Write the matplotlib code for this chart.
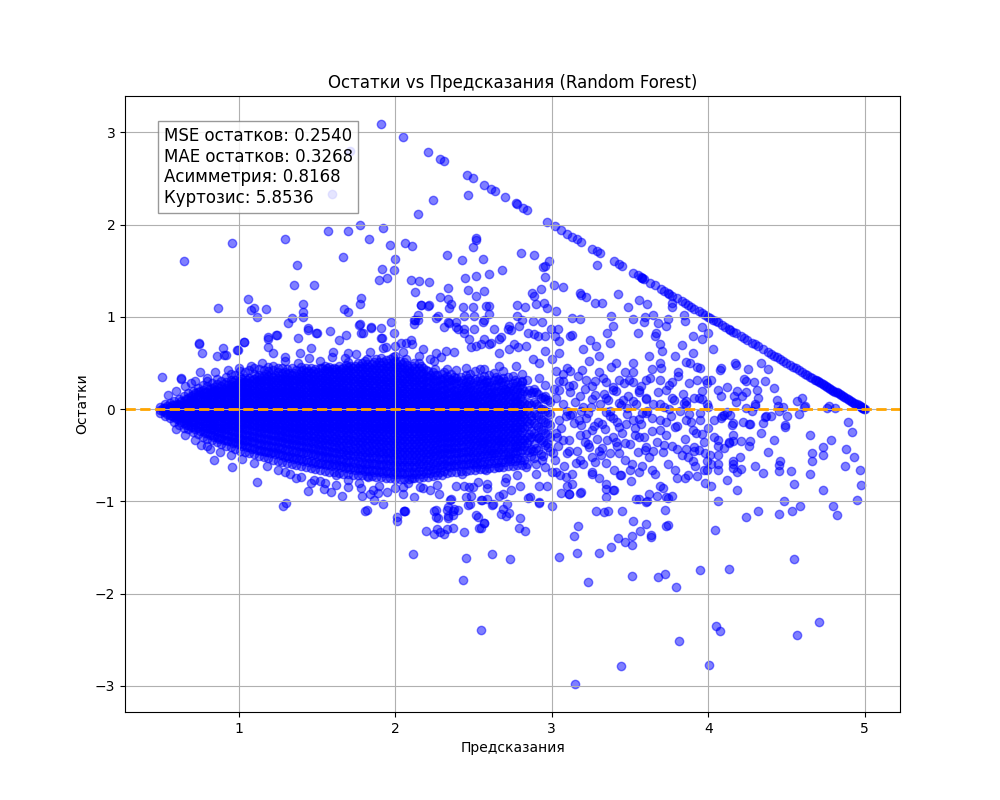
import matplotlib
matplotlib.use('Agg')
import matplotlib.pyplot as plt

# Статистика остатков (как в исходном отчёте)
mse_resid = 0.2540
mae_resid = 0.3268
skew_resid = 0.8168
kurt_resid = 5.8536

# Точки на линии ограничения целевой переменной (факт = 5.0)
cap_pred = [1.91, 2.05, 2.21, 2.29, 2.31, 2.46, 2.50, 2.57, 2.61, 2.64, 2.70, 2.77, 2.78,
            2.82, 2.84, 2.97, 3.02, 3.06, 3.10, 3.13, 3.16, 3.19, 3.26, 3.29, 3.31, 3.40,
            3.43, 3.45, 3.52, 3.55, 3.57, 3.58, 3.58, 3.59, 3.63, 3.66, 3.70, 3.72, 3.74,
            3.75, 3.77, 3.80, 3.83, 3.85, 3.87, 3.89, 3.91, 3.94, 3.96, 3.98, 4.00, 4.01,
            4.03, 4.05, 4.06, 4.09, 4.11, 4.13, 4.14, 4.16, 4.18, 4.21, 4.23, 4.25, 4.28,
            4.30, 4.32, 4.35, 4.38, 4.40, 4.42, 4.44, 4.46, 4.48, 4.50, 4.52, 4.54, 4.56,
            4.58, 4.60, 4.62, 4.63, 4.65, 4.66, 4.68, 4.69, 4.70, 4.71, 4.72, 4.73, 4.74,
            4.75, 4.76, 4.77, 4.78, 4.79, 4.80, 4.81, 4.82, 4.83, 4.84, 4.85, 4.86, 4.87,
            4.88, 4.89, 4.90, 4.91, 4.92, 4.93, 4.94, 4.95, 4.96, 4.97, 4.975, 4.98, 4.985,
            4.99, 4.995, 5.00]
cap_resid = [3.09, 2.95, 2.79, 2.71, 2.69, 2.54, 2.50, 2.43, 2.39, 2.36, 2.30, 2.23, 2.22,
             2.18, 2.16, 2.03, 1.98, 1.94, 1.90, 1.87, 1.84, 1.81, 1.74, 1.71, 1.69, 1.60,
             1.57, 1.55, 1.48, 1.45, 1.43, 1.42, 1.42, 1.41, 1.37, 1.34, 1.30, 1.28, 1.26,
             1.25, 1.23, 1.20, 1.17, 1.15, 1.13, 1.11, 1.09, 1.06, 1.04, 1.02, 1.00, 0.99,
             0.97, 0.95, 0.94, 0.91, 0.89, 0.87, 0.86, 0.84, 0.82, 0.79, 0.77, 0.75, 0.72,
             0.70, 0.68, 0.65, 0.62, 0.60, 0.58, 0.56, 0.54, 0.52, 0.50, 0.48, 0.46, 0.44,
             0.42, 0.40, 0.38, 0.37, 0.35, 0.34, 0.32, 0.31, 0.30, 0.29, 0.28, 0.27, 0.26,
             0.25, 0.24, 0.23, 0.22, 0.21, 0.20, 0.19, 0.18, 0.17, 0.16, 0.15, 0.14, 0.13,
             0.12, 0.11, 0.10, 0.09, 0.08, 0.07, 0.06, 0.05, 0.04, 0.03, 0.025, 0.02, 0.015,
             0.01, 0.005, 0.00]

# Плотное ядро, часть 1: предсказание колонки и остатки в ней
core_pred = [0.50, 0.53, 0.56, 0.59, 0.62, 0.65, 0.68, 0.71, 0.74, 0.77, 0.80, 0.83, 0.86,
             0.89, 0.92, 0.95, 0.98, 1.01, 1.04, 1.07, 1.10, 1.13, 1.16, 1.19, 1.22, 1.25,
             1.28, 1.31, 1.34, 1.37, 1.40, 1.43, 1.46, 1.49, 1.52, 1.55, 1.58, 1.61, 1.64,
             1.67, 1.70, 1.73, 1.76, 1.79, 1.82, 1.85, 1.88, 1.91, 1.94, 1.97, 2.00, 2.03,
             2.06, 2.09, 2.12, 2.15, 2.18, 2.21, 2.24, 2.27, 2.30, 2.33, 2.36, 2.39, 2.42,
             2.45, 2.48, 2.51, 2.54, 2.57, 2.60, 2.63, 2.66, 2.69, 2.72, 2.75, 2.78, 2.81,
             2.84, 2.87, 2.90, 2.93, 2.96, 2.99]
core_resid = [
    [-.04, -.01, .02],
    [-.07, -.03, .01, .05],
    [-.10, -.06, -.02, .02, .07],
    [-.14, -.09, -.05, -.01, .04, .09],
    [-.17, -.12, -.07, -.03, .02, .06, .11],
    [-.20, -.15, -.10, -.05, -.01, .04, .09, .14],
    [-.22, -.17, -.12, -.07, -.03, .02, .07, .12, .17],
    [-.25, -.19, -.14, -.09, -.04, .00, .05, .10, .15, .20],
    [-.27, -.21, -.16, -.11, -.06, -.02, .03, .08, .13, .18, .23],
    [-.30, -.24, -.18, -.13, -.08, -.03, .01, .06, .11, .16, .21, .26],
    [-.32, -.26, -.20, -.15, -.10, -.05, .00, .04, .09, .14, .19, .25, .30],
    [-.34, -.28, -.22, -.17, -.12, -.07, -.02, .03, .08, .13, .18, .23, .28],
    [-.36, -.30, -.24, -.18, -.13, -.08, -.03, .01, .06, .11, .16, .21, .27, .33],
    [-.38, -.31, -.25, -.20, -.14, -.09, -.04, .00, .05, .10, .15, .20, .25, .30],
    [-.40, -.33, -.27, -.21, -.16, -.11, -.06, -.01, .04, .08, .13, .18, .23, .29, .35],
    [-.41, -.35, -.29, -.23, -.17, -.12, -.07, -.02, .03, .07, .12, .17, .22, .27, .32, .38],
    [-.43, -.36, -.30, -.24, -.18, -.13, -.08, -.03, .02, .06, .11, .16, .21, .26, .31, .37],
    [-.45, -.38, -.31, -.25, -.19, -.14, -.09, -.04, .01, .05, .10, .15, .20, .25, .30, .35, .41],
    [-.46, -.39, -.33, -.27, -.21, -.15, -.10, -.05, .00, .04, .09, .14, .19, .24, .29, .34, .40],
    [-.48, -.41, -.34, -.28, -.22, -.16, -.11, -.06, -.01, .04, .08, .13, .18, .23, .28, .34, .42],
    [-.49, -.42, -.35, -.29, -.23, -.17, -.12, -.07, -.02, .03, .07, .12, .17, .22, .28, .33, .38, .44],
    [-.51, -.44, -.37, -.30, -.24, -.18, -.13, -.08, -.03, .02, .06, .11, .16, .21, .27, .32, .37, .43],
    [-.52, -.45, -.38, -.31, -.25, -.19, -.14, -.09, -.04, .01, .06, .10, .15, .20, .26, .31, .36, .42],
    [-.53, -.46, -.39, -.32, -.26, -.20, -.15, -.10, -.05, .00, .05, .10, .15, .20, .25, .30, .36, .41, .46],
    [-.55, -.47, -.40, -.33, -.27, -.21, -.16, -.11, -.06, -.01, .04, .09, .14, .19, .24, .29, .35, .42],
    [-.56, -.48, -.41, -.34, -.28, -.22, -.16, -.11, -.06, -.01, .04, .08, .13, .18, .23, .29, .34, .40, .45],
    [-.57, -.50, -.42, -.35, -.29, -.23, -.17, -.12, -.07, -.02, .03, .08, .13, .18, .23, .28, .33, .39, .44],
    [-.58, -.51, -.43, -.36, -.30, -.24, -.18, -.13, -.08, -.03, .02, .07, .12, .17, .22, .27, .32, .38, .43],
    [-.60, -.52, -.44, -.37, -.31, -.25, -.19, -.14, -.09, -.04, .01, .06, .11, .16, .21, .26, .32, .37, .44],
    [-.61, -.53, -.45, -.38, -.32, -.26, -.20, -.15, -.10, -.05, .00, .05, .10, .15, .20, .25, .31, .36, .42],
    [-.62, -.54, -.46, -.39, -.33, -.27, -.21, -.16, -.11, -.06, -.01, .04, .09, .14, .19, .25, .30, .35, .41, .46],
    [-.63, -.55, -.47, -.40, -.34, -.28, -.22, -.17, -.12, -.07, -.02, .03, .08, .13, .18, .24, .29, .34, .40, .45],
    [-.64, -.56, -.48, -.41, -.35, -.29, -.23, -.17, -.12, -.07, -.02, .03, .08, .13, .18, .23, .28, .33, .39, .44],
    [-.65, -.57, -.49, -.42, -.35, -.29, -.23, -.18, -.13, -.08, -.03, .02, .07, .12, .17, .22, .27, .32, .38, .43],
    [-.66, -.58, -.50, -.43, -.36, -.30, -.24, -.19, -.14, -.09, -.04, .01, .06, .11, .16, .21, .26, .32, .37, .44],
    [-.67, -.59, -.51, -.44, -.37, -.31, -.25, -.19, -.14, -.09, -.04, .01, .06, .11, .16, .21, .26, .31, .36, .42, .47],
    [-.68, -.60, -.52, -.45, -.38, -.32, -.26, -.20, -.15, -.10, -.05, .00, .05, .10, .15, .20, .25, .30, .36, .41, .46],
    [-.68, -.60, -.53, -.46, -.39, -.32, -.26, -.21, -.16, -.11, -.06, -.01, .04, .09, .14, .19, .24, .29, .35, .40, .45],
    [-.69, -.61, -.54, -.47, -.40, -.33, -.27, -.21, -.16, -.11, -.06, -.01, .04, .09, .14, .19, .24, .30, .35, .41, .47],
    [-.70, -.62, -.54, -.47, -.40, -.34, -.28, -.22, -.17, -.12, -.07, -.02, .03, .08, .13, .18, .23, .28, .34, .39, .45],
    [-.70, -.63, -.55, -.48, -.41, -.34, -.28, -.22, -.17, -.12, -.07, -.02, .03, .08, .13, .18, .23, .29, .34, .40, .46, .51],
    [-.71, -.63, -.56, -.49, -.42, -.35, -.29, -.23, -.18, -.13, -.08, -.03, .02, .07, .12, .17, .22, .28, .33, .39, .45],
    [-.72, -.64, -.56, -.49, -.42, -.36, -.30, -.24, -.18, -.13, -.08, -.03, .02, .07, .12, .17, .22, .27, .33, .38, .44, .50],
    [-.72, -.65, -.57, -.50, -.43, -.36, -.30, -.24, -.19, -.14, -.09, -.04, .01, .06, .11, .16, .21, .27, .32, .38, .44, .50],
    [-.73, -.65, -.58, -.50, -.43, -.37, -.31, -.25, -.19, -.14, -.09, -.04, .01, .06, .11, .16, .21, .26, .32, .37, .43, .49, .54],
    [-.73, -.66, -.58, -.51, -.44, -.37, -.31, -.25, -.20, -.15, -.10, -.05, .00, .05, .10, .15, .20, .26, .31, .37, .43, .49],
    [-.74, -.66, -.59, -.51, -.44, -.38, -.32, -.26, -.20, -.15, -.10, -.05, .00, .05, .10, .15, .20, .25, .31, .36, .42, .48, .54],
    [-.74, -.67, -.59, -.52, -.45, -.38, -.32, -.26, -.21, -.16, -.11, -.06, -.01, .04, .09, .14, .19, .25, .30, .36, .42, .48, .55],
    [-.75, -.67, -.60, -.52, -.45, -.39, -.33, -.27, -.21, -.16, -.11, -.06, -.01, .04, .09, .14, .19, .24, .30, .35, .41, .47, .53],
    [-.75, -.68, -.60, -.53, -.46, -.39, -.33, -.27, -.22, -.17, -.12, -.07, -.02, .03, .08, .13, .18, .24, .29, .35, .41, .47, .54],
    [-.76, -.68, -.61, -.53, -.46, -.40, -.34, -.28, -.22, -.17, -.12, -.07, -.02, .03, .08, .13, .18, .23, .29, .34, .40, .46, .52, .58],
    [-.76, -.68, -.61, -.54, -.47, -.40, -.34, -.28, -.23, -.18, -.13, -.08, -.03, .02, .07, .12, .17, .23, .28, .34, .40, .46, .52],
    [-.76, -.69, -.61, -.54, -.47, -.41, -.35, -.29, -.23, -.18, -.13, -.08, -.03, .02, .07, .12, .17, .22, .28, .33, .39, .45, .51],
    [-.76, -.68, -.61, -.54, -.47, -.41, -.35, -.29, -.24, -.19, -.14, -.09, -.04, .01, .06, .11, .16, .22, .27, .33, .39, .45],
    [-.75, -.68, -.61, -.54, -.47, -.41, -.35, -.29, -.24, -.19, -.14, -.09, -.04, .01, .06, .11, .16, .21, .27, .32, .38, .44, .50],
    [-.75, -.67, -.60, -.53, -.47, -.41, -.35, -.29, -.24, -.19, -.14, -.09, -.04, .01, .06, .11, .16, .21, .26, .32, .38, .44],
    [-.74, -.67, -.60, -.53, -.46, -.40, -.34, -.29, -.24, -.19, -.14, -.09, -.04, .01, .06, .11, .16, .21, .27, .33, .39, .45],
    [-.74, -.66, -.59, -.52, -.46, -.40, -.34, -.28, -.23, -.18, -.13, -.08, -.03, .02, .07, .12, .17, .23, .29, .35, .41],
    [-.73, -.65, -.58, -.51, -.45, -.39, -.33, -.28, -.23, -.18, -.13, -.08, -.03, .02, .07, .12, .17, .22, .28, .34, .40],
    [-.72, -.64, -.57, -.50, -.44, -.38, -.32, -.27, -.22, -.17, -.12, -.07, -.02, .03, .08, .13, .18, .24, .30, .37],
    [-.71, -.63, -.56, -.49, -.43, -.37, -.31, -.26, -.21, -.16, -.11, -.06, -.01, .04, .09, .14, .20, .26, .32, .38],
    [-.69, -.62, -.55, -.48, -.42, -.36, -.30, -.24, -.19, -.14, -.09, -.04, .01, .06, .11, .17, .23, .29, .36, .43],
    [-.68, -.61, -.54, -.47, -.41, -.35, -.29, -.23, -.18, -.13, -.08, -.03, .02, .07, .12, .18, .24, .31, .38],
    [-.68, -.60, -.53, -.46, -.40, -.34, -.28, -.22, -.17, -.12, -.07, -.02, .03, .08, .14, .20, .27, .34, .42],
    [-.67, -.60, -.52, -.46, -.39, -.33, -.27, -.22, -.16, -.11, -.06, -.01, .04, .09, .15, .21, .28, .35],
    [-.67, -.59, -.52, -.45, -.38, -.32, -.27, -.21, -.16, -.10, -.05, .00, .05, .10, .16, .22, .29, .37, .44],
    [-.66, -.58, -.51, -.44, -.38, -.31, -.26, -.20, -.15, -.10, -.04, .01, .06, .12, .18, .24, .31, .38],
    [-.66, -.57, -.50, -.43, -.37, -.31, -.25, -.19, -.14, -.09, -.04, .02, .07, .13, .19, .26, .33, .41],
    [-.65, -.57, -.50, -.43, -.36, -.30, -.24, -.19, -.13, -.08, -.03, .02, .08, .14, .20, .27, .34],
    [-.65, -.56, -.49, -.42, -.35, -.29, -.23, -.18, -.12, -.07, -.02, .03, .09, .15, .21, .28, .36, .43],
    [-.64, -.56, -.48, -.41, -.35, -.29, -.23, -.17, -.12, -.06, -.01, .04, .10, .16, .22, .29, .37],
    [-.64, -.55, -.48, -.41, -.34, -.28, -.22, -.16, -.11, -.06, .00, .05, .11, .17, .24, .31, .39],
    [-.63, -.55, -.47, -.40, -.34, -.27, -.21, -.16, -.10, -.05, .01, .06, .12, .18, .25, .33],
    [-.63, -.54, -.47, -.40, -.33, -.27, -.21, -.15, -.10, -.04, .01, .07, .13, .19, .26, .34, .41],
    [-.62, -.54, -.46, -.39, -.32, -.26, -.20, -.15, -.09, -.04, .02, .08, .14, .20, .27, .35],
    [-.62, -.53, -.46, -.38, -.32, -.26, -.20, -.14, -.09, -.03, .02, .08, .14, .21, .28, .36],
    [-.61, -.53, -.45, -.38, -.31, -.25, -.19, -.14, -.08, -.03, .03, .09, .15, .22, .29],
    [-.61, -.52, -.44, -.37, -.31, -.25, -.19, -.13, -.08, -.02, .03, .09, .16, .23, .30, .38],
    [-.60, -.44, -.37, -.30, -.18, -.13, -.02, .04, .16, .31],
    [-.51, -.43, -.30, -.24, -.12, -.07, .04, .17],
    [-.59, -.42, -.29, -.17, -.06, .05, .18],
    [-.49, -.34, -.22, -.11, .00, .12],
    [-.39, -.26, -.14, -.02, .11, .26],
    [-.45, -.30, -.17, -.05, .08],
]

# Плотное ядро, часть 2: промежуточные колонки
core2_pred = [0.515, 0.545, 0.575, 0.605, 0.635, 0.665, 0.695, 0.725, 0.755, 0.785, 0.815,
              0.845, 0.875, 0.905, 0.935, 0.965, 0.995, 1.025, 1.055, 1.085, 1.115, 1.145,
              1.175, 1.205, 1.235, 1.265, 1.295, 1.325, 1.355, 1.385, 1.415, 1.445, 1.475,
              1.505, 1.535, 1.565, 1.595, 1.625, 1.655, 1.685, 1.715, 1.745, 1.775, 1.805,
              1.835, 1.865, 1.895, 1.925, 1.955, 1.985, 2.015, 2.045, 2.075, 2.105, 2.135,
              2.165, 2.195, 2.225, 2.255, 2.285, 2.315, 2.345, 2.375, 2.405, 2.435, 2.465,
              2.495, 2.525, 2.555, 2.585, 2.615, 2.645, 2.675, 2.705, 2.735, 2.765, 2.795,
              2.825, 2.855, 2.885, 2.915, 2.945, 2.975]
core2_resid = [
    [-.02, .01],
    [-.05, -.01, .03],
    [-.08, -.04, .00, .04],
    [-.11, -.07, -.03, .01, .06],
    [-.14, -.09, -.05, .00, .04, .09],
    [-.17, -.12, -.07, -.03, .02, .06, .11],
    [-.19, -.14, -.09, -.05, .00, .05, .10, .14],
    [-.22, -.16, -.11, -.06, -.02, .03, .08, .13, .17],
    [-.24, -.18, -.13, -.08, -.04, .01, .06, .11, .16, .20],
    [-.26, -.20, -.15, -.10, -.05, -.01, .04, .09, .14, .19],
    [-.28, -.22, -.17, -.12, -.07, -.02, .02, .07, .12, .17, .22],
    [-.30, -.24, -.19, -.14, -.09, -.04, .01, .05, .10, .15, .20, .24],
    [-.32, -.26, -.20, -.15, -.10, -.05, -.01, .04, .08, .13, .18, .23],
    [-.34, -.28, -.22, -.17, -.12, -.07, -.02, .02, .07, .12, .17, .22, .27],
    [-.35, -.29, -.23, -.18, -.13, -.08, -.03, .01, .06, .11, .16, .21, .26],
    [-.37, -.31, -.25, -.19, -.14, -.09, -.04, .00, .05, .10, .15, .20, .25, .29],
    [-.38, -.32, -.26, -.20, -.15, -.10, -.05, -.01, .04, .09, .14, .19, .24, .28],
    [-.40, -.34, -.28, -.22, -.16, -.11, -.06, -.02, .03, .08, .13, .18, .23, .28, .33],
    [-.41, -.35, -.29, -.23, -.17, -.12, -.07, -.02, .02, .07, .12, .17, .22, .27, .32],
    [-.43, -.36, -.30, -.24, -.18, -.13, -.08, -.03, .01, .06, .11, .16, .21, .26, .31],
    [-.44, -.38, -.31, -.25, -.19, -.14, -.09, -.04, .00, .05, .10, .15, .20, .25, .30, .35],
    [-.45, -.39, -.32, -.26, -.20, -.15, -.10, -.05, .00, .04, .09, .14, .19, .24, .29, .34],
    [-.47, -.40, -.33, -.27, -.21, -.16, -.11, -.06, -.01, .03, .08, .13, .18, .23, .28, .33, .38],
    [-.48, -.41, -.34, -.28, -.22, -.17, -.12, -.07, -.02, .03, .07, .12, .17, .22, .27, .32, .37],
    [-.49, -.42, -.35, -.29, -.23, -.18, -.13, -.08, -.03, .02, .06, .11, .16, .21, .26, .31, .37],
    [-.50, -.43, -.36, -.30, -.24, -.19, -.14, -.09, -.04, .01, .06, .10, .15, .20, .25, .31, .36],
    [-.52, -.44, -.37, -.31, -.25, -.20, -.15, -.10, -.05, .00, .05, .10, .15, .20, .25, .30, .35, .40],
    [-.53, -.45, -.38, -.32, -.26, -.21, -.16, -.11, -.06, -.01, .04, .09, .14, .19, .24, .29, .34, .39],
    [-.54, -.46, -.39, -.33, -.27, -.22, -.17, -.12, -.07, -.02, .03, .08, .13, .18, .23, .28, .33, .39],
    [-.55, -.47, -.40, -.34, -.28, -.23, -.18, -.13, -.08, -.03, .02, .07, .12, .17, .22, .28, .33, .38],
    [-.56, -.48, -.41, -.35, -.29, -.24, -.19, -.14, -.09, -.04, .01, .06, .11, .16, .21, .27, .32, .37, .42],
    [-.57, -.49, -.42, -.36, -.30, -.25, -.20, -.15, -.10, -.05, .00, .05, .10, .15, .20, .26, .31, .36, .41],
    [-.58, -.50, -.43, -.37, -.31, -.26, -.20, -.15, -.10, -.05, .00, .05, .10, .15, .20, .25, .30, .36, .41],
    [-.59, -.51, -.44, -.38, -.32, -.26, -.21, -.16, -.11, -.06, -.01, .04, .09, .14, .19, .24, .29, .35, .40],
    [-.60, -.52, -.45, -.39, -.33, -.27, -.22, -.17, -.12, -.07, -.02, .03, .08, .13, .18, .23, .29, .34, .39, .45],
    [-.61, -.53, -.46, -.40, -.34, -.28, -.22, -.17, -.12, -.07, -.02, .03, .08, .13, .18, .23, .28, .33, .39, .44],
    [-.62, -.54, -.47, -.41, -.35, -.29, -.23, -.18, -.13, -.08, -.03, .02, .07, .12, .17, .22, .27, .33, .38, .43],
    [-.62, -.55, -.48, -.42, -.36, -.30, -.24, -.18, -.13, -.08, -.03, .02, .07, .12, .17, .22, .27, .32, .38, .43],
    [-.63, -.56, -.49, -.43, -.37, -.31, -.25, -.19, -.14, -.09, -.04, .01, .06, .11, .16, .21, .26, .32, .37, .43],
    [-.64, -.57, -.50, -.44, -.37, -.31, -.25, -.20, -.15, -.10, -.05, .00, .05, .10, .15, .20, .26, .31, .37, .42, .48],
    [-.65, -.57, -.50, -.44, -.38, -.32, -.26, -.20, -.15, -.10, -.05, .00, .05, .10, .15, .20, .25, .31, .36, .42, .47],
    [-.66, -.58, -.51, -.45, -.39, -.33, -.27, -.21, -.16, -.11, -.06, -.01, .04, .09, .14, .19, .25, .30, .36, .41, .47],
    [-.66, -.59, -.52, -.45, -.39, -.33, -.27, -.21, -.16, -.11, -.06, -.01, .04, .09, .14, .19, .24, .30, .35, .41, .47],
    [-.67, -.59, -.52, -.46, -.40, -.34, -.28, -.22, -.17, -.12, -.07, -.02, .03, .08, .13, .18, .24, .29, .35, .40, .46, .52],
    [-.67, -.60, -.53, -.46, -.40, -.34, -.28, -.22, -.17, -.12, -.07, -.02, .03, .08, .13, .18, .23, .29, .34, .40, .46],
    [-.68, -.60, -.53, -.47, -.41, -.35, -.29, -.23, -.18, -.13, -.08, -.03, .02, .07, .12, .17, .23, .28, .34, .39, .45, .51],
    [-.68, -.61, -.54, -.47, -.41, -.35, -.29, -.23, -.18, -.13, -.08, -.03, .02, .07, .12, .17, .22, .28, .33, .39, .45, .51],
    [-.69, -.61, -.54, -.48, -.42, -.36, -.30, -.24, -.19, -.14, -.09, -.04, .01, .06, .11, .16, .22, .27, .33, .39, .45, .51],
    [-.69, -.62, -.55, -.48, -.42, -.36, -.30, -.24, -.19, -.14, -.09, -.04, .01, .06, .11, .16, .21, .27, .32, .38, .44, .50],
    [-.70, -.62, -.55, -.49, -.43, -.37, -.31, -.25, -.20, -.15, -.10, -.05, .00, .05, .10, .15, .21, .26, .32, .38, .44, .50, .56],
    [-.70, -.63, -.56, -.49, -.43, -.37, -.31, -.25, -.20, -.15, -.10, -.05, .00, .05, .10, .15, .20, .26, .31, .37, .43, .49],
    [-.70, -.63, -.56, -.50, -.44, -.38, -.32, -.26, -.21, -.16, -.11, -.06, -.01, .04, .09, .14, .20, .25, .31, .37, .43, .49],
    [-.70, -.63, -.56, -.50, -.44, -.38, -.32, -.26, -.21, -.16, -.11, -.06, -.01, .04, .09, .14, .19, .25, .30, .36, .42, .48],
    [-.70, -.63, -.56, -.50, -.44, -.38, -.32, -.26, -.21, -.16, -.11, -.06, -.01, .04, .09, .14, .19, .24, .30, .35, .41, .47],
    [-.70, -.63, -.56, -.50, -.44, -.38, -.32, -.26, -.21, -.16, -.11, -.06, -.01, .04, .09, .14, .19, .24, .30, .35, .41],
    [-.70, -.63, -.56, -.50, -.43, -.37, -.31, -.26, -.21, -.16, -.11, -.06, -.01, .04, .09, .14, .19, .24, .29, .35, .41, .47],
    [-.69, -.62, -.55, -.49, -.43, -.37, -.31, -.26, -.21, -.16, -.11, -.06, -.01, .04, .09, .14, .19, .24, .30, .36, .42],
    [-.69, -.62, -.55, -.49, -.43, -.37, -.31, -.25, -.20, -.15, -.10, -.05, .00, .05, .10, .15, .20, .25, .31, .37],
    [-.68, -.61, -.54, -.48, -.42, -.36, -.30, -.25, -.20, -.15, -.10, -.05, .00, .05, .10, .15, .20, .25, .31, .37, .43],
    [-.68, -.61, -.54, -.48, -.42, -.36, -.30, -.25, -.20, -.15, -.10, -.05, .00, .05, .10, .15, .21, .27, .33],
    [-.67, -.60, -.53, -.47, -.41, -.35, -.29, -.24, -.19, -.14, -.09, -.04, .01, .06, .11, .16, .22, .28, .34, .40],
    [-.63, -.56, -.49, -.43, -.37, -.31, -.26, -.21, -.16, -.11, -.06, -.01, .04, .09, .14, .20, .26, .33],
    [-.62, -.55, -.48, -.42, -.36, -.30, -.25, -.20, -.15, -.10, -.05, .00, .05, .10, .15, .21, .28, .35],
    [-.62, -.55, -.48, -.42, -.36, -.30, -.24, -.19, -.14, -.09, -.04, .01, .06, .11, .17, .23, .30],
    [-.61, -.54, -.47, -.41, -.35, -.29, -.24, -.18, -.13, -.08, -.03, .02, .07, .12, .18, .25, .32],
    [-.61, -.54, -.47, -.41, -.35, -.29, -.23, -.18, -.13, -.07, -.02, .03, .08, .14, .20, .27, .34],
    [-.60, -.53, -.46, -.40, -.34, -.28, -.22, -.17, -.12, -.07, -.01, .04, .09, .15, .21, .28],
    [-.60, -.53, -.46, -.39, -.33, -.27, -.22, -.16, -.11, -.06, -.01, .05, .10, .16, .23, .30],
    [-.59, -.52, -.45, -.39, -.33, -.27, -.21, -.16, -.10, -.05, .00, .05, .11, .17, .24, .31],
    [-.59, -.51, -.44, -.38, -.32, -.26, -.20, -.15, -.10, -.04, .01, .06, .12, .18, .25, .32],
    [-.58, -.51, -.44, -.37, -.31, -.25, -.20, -.14, -.09, -.04, .02, .07, .13, .19, .26],
    [-.58, -.50, -.43, -.37, -.31, -.25, -.19, -.14, -.08, -.03, .02, .08, .14, .20, .27, .35],
    [-.57, -.50, -.43, -.36, -.30, -.24, -.18, -.13, -.08, -.02, .03, .09, .15, .21, .29],
    [-.57, -.49, -.42, -.36, -.30, -.24, -.18, -.12, -.07, -.02, .04, .10, .16, .22, .30],
    [-.56, -.49, -.42, -.35, -.29, -.23, -.17, -.12, -.06, -.01, .05, .11, .17, .24],
    [-.56, -.48, -.41, -.35, -.28, -.22, -.17, -.11, -.06, .00, .05, .11, .18, .25, .32],
    [-.55, -.47, -.40, -.34, -.28, -.22, -.16, -.11, -.05, .00, .06, .12, .19, .26],
    [-.55, -.40, -.33, -.21, -.10, -.05, .07, .20],
    [-.46, -.33, -.27, -.15, -.04, .07, .21],
    [-.53, -.38, -.26, -.15, -.04, .08, .22],
    [-.44, -.31, -.19, -.08, .03, .16],
    [-.51, -.36, -.23, -.12, .00, .13],
    [-.41, -.27, -.15, -.03, .10],
]

# Отдельные точки вне ядра: (предсказание, остаток)
scatter_points = [
    # верхняя левая часть
    (0.655, 1.61), (0.957, 1.80), (1.30, 1.845), (1.57, 1.935), (1.70, 1.935), (1.774, 2.00),
    (1.92, 1.96), (1.836, 1.84), (1.97, 1.78), (2.00, 1.63), (1.67, 1.65), (1.372, 1.565),
    (1.353, 1.345), (1.48, 1.345), (1.914, 1.52), (1.99, 1.51), (1.95, 1.42), (1.90, 1.40),
    (2.165, 1.13), (2.144, 0.97), (1.06, 1.195), (1.077, 1.07), (1.096, 1.095), (1.174, 1.087),
    (1.12, 1.00), (0.868, 1.10), (1.413, 1.14), (1.41, 1.05), (1.41, 1.00), (1.34, 0.985),
    (1.672, 1.085), (1.70, 1.05), (1.774, 1.14), (1.78, 1.20), (1.774, 0.925), (1.793, 0.83),
    (1.847, 0.89), (1.91, 0.88), (1.914, 0.77), (1.247, 0.80), (1.187, 0.76), (1.315, 0.93),
    (1.442, 0.88), (1.50, 0.82), (1.585, 0.85), (0.75, 0.71), (0.766, 0.605), (0.864, 0.576),
    (0.90, 0.66), (0.92, 0.587), (0.99, 0.64), (1.034, 0.725), (0.51, 0.345), (0.63, 0.333),
    (1.71, 2.80), (1.595, 2.33),
    (0.634, 0.322), (0.698, 0.286), (0.751, 0.406), (0.745, 0.714), (0.91, 0.587), (0.996, 0.641),
    (1.038, 0.732), (1.187, 0.786), (1.24, 0.805), (1.187, 0.678), (1.219, 0.605), (1.294, 0.569),
    (1.39, 0.605), (1.442, 0.859), (1.496, 0.822), (1.379, 0.768), (1.464, 0.66), (1.602, 0.623),
    (1.644, 0.75), (1.687, 0.805), (1.698, 0.605), (1.772, 0.913), (1.783, 0.822), (1.847, 0.877),
    (1.91, 0.768), (1.974, 0.949), (1.996, 0.822), (1.942, 0.678), (2.038, 0.714), (2.102, 0.75),
    (2.123, 0.967), (2.144, 1.022), (2.208, 1.112), (2.272, 1.004), (2.314, 0.895), (2.346, 0.931),
    (2.389, 0.895), (2.442, 0.822), (2.506, 1.004), (2.57, 0.967), (2.612, 0.714), (2.676, 0.786),
    (2.74, 0.859), (2.782, 0.678), (2.485, 0.678), (2.378, 0.623), (2.293, 0.569),
    (0.55, 0.15), (0.60, 0.20), (0.66, 0.25), (0.72, 0.30), (0.80, 0.34), (0.85, 0.40),
    (0.93, 0.42), (1.00, 0.45), (1.08, 0.47), (1.15, 0.50), (1.22, 0.47), (1.30, 0.52),
    (1.38, 0.50), (1.45, 0.55), (1.52, 0.52), (1.60, 0.56), (1.68, 0.55), (1.75, 0.60),
    (1.84, 0.62), (1.92, 0.66), (2.00, 0.68), (2.05, 0.62), (2.15, 0.58), (2.25, 0.52),
    # верхняя средняя часть
    (2.24, 2.27), (2.144, 2.11), (2.467, 2.32), (2.065, 1.80), (2.105, 1.77), (2.52, 1.855),
    (2.52, 1.83), (2.495, 1.76), (2.33, 1.67), (2.43, 1.62), (2.56, 1.63), (2.68, 1.51),
    (2.597, 1.46), (2.807, 1.695), (2.888, 1.67), (2.98, 1.60), (2.96, 1.555), (2.946, 1.545),
    (3.288, 1.56), (2.958, 1.43), (3.018, 1.345), (3.073, 1.32), (2.104, 1.40), (2.15, 1.39),
    (2.218, 1.38), (2.125, 1.27), (2.34, 1.31), (2.446, 1.42), (2.514, 1.44), (2.463, 1.29),
    (2.565, 1.28), (2.52, 1.23), (2.284, 1.22), (2.338, 1.19), (2.357, 1.14), (2.346, 1.10),
    (2.435, 1.11), (2.50, 1.11), (2.167, 1.13), (2.218, 1.13), (2.58, 1.12), (2.597, 1.12),
    (2.78, 1.13), (2.83, 1.11), (2.877, 1.26), (2.888, 1.23), (2.931, 1.30), (2.90, 1.14),
    (2.95, 1.155), (2.97, 1.10), (3.03, 1.065), (3.18, 1.26), (3.19, 1.24), (3.22, 1.21),
    (3.28, 1.155), (3.32, 1.155), (3.424, 1.245), (3.558, 1.18), (3.609, 1.135), (3.49, 1.105),
    (3.38, 1.01), (3.133, 0.99), (3.18, 0.975), (3.52, 0.975), (3.597, 1.00), (3.65, 1.02),
    (3.39, 0.90), (3.356, 0.82), (3.373, 0.72), (3.282, 0.685), (3.244, 0.745), (3.59, 0.94),
    (3.677, 0.93), (3.729, 0.90), (3.668, 0.82), (3.743, 0.98), (3.554, 0.82), (3.662, 0.79),
    (3.694, 0.70), (3.707, 0.63), (3.133, 0.80), (3.845, 1.02), (3.85, 0.95), (3.90, 0.79),
    (3.96, 0.89), (3.998, 0.82), (3.962, 0.76), (3.83, 0.69), (3.77, 1.11), (3.767, 1.155),
    (4.03, 0.65), (3.86, 0.51), (3.886, 0.50), (3.95, 0.44), (4.08, 0.44), (4.075, 0.42),
    (3.926, 0.31), (3.984, 0.31), (4.17, 0.50), (4.175, 0.475), (4.254, 0.43), (4.228, 0.33),
    (4.243, 0.30), (4.29, 0.29), (4.313, 0.21), (4.383, 0.43), (4.335, 0.50), (4.185, 0.195),
    (4.217, 0.14), (4.164, 0.14), (4.06, 0.21), (3.994, 0.28), (4.42, 0.225), (4.568, 0.087),
    (4.60, 0.123), (4.447, 0.033), (4.76, 0.014), (4.813, 0.014), (4.30, 0.05), (4.239, 0.014),
    (4.10, -0.06), (3.962, 0.105), (3.94, 0.123), (3.845, 0.07), (4.61, 0.025),
    (2.07, 0.72), (2.13, 0.97), (2.12, 0.92), (2.26, 0.99), (2.335, 0.94), (2.39, 0.94),
    (2.44, 1.01), (2.40, 0.87), (2.44, 0.87), (2.47, 0.76), (2.505, 0.87), (2.56, 0.94),
    (2.60, 1.03), (2.57, 0.76), (2.63, 0.87), (2.665, 0.76), (2.72, 0.87), (2.73, 0.90),
    (2.78, 1.01), (2.79, 0.90), (2.81, 0.97), (2.85, 0.83), (2.88, 0.96), (2.89, 0.81),
    (2.91, 0.79), (2.94, 0.94), (2.96, 0.79), (2.995, 0.87), (3.02, 0.79), (3.04, 0.87),
    (3.044, 0.74), (3.05, 0.61), (3.12, 0.79), (2.516, 0.685), (2.55, 0.70), (2.60, 0.70),
    (2.665, 0.61), (2.73, 0.65), (2.76, 0.70), (2.835, 0.685), (2.88, 0.54), (2.92, 0.50),
    (2.96, 0.63), (3.00, 0.54), (2.325, 0.63), (2.26, 0.61), (2.22, 0.54), (2.18, 0.65),
    (2.11, 0.70), (2.07, 0.54), (2.155, 0.50), (2.09, 0.40), (2.54, 0.43), (2.665, 0.47),
    (2.77, 0.47), (2.92, 0.34), (3.03, 0.41), (3.07, 0.30), (3.12, 0.41), (3.11, 0.25),
    (3.05, 0.21), (2.37, 0.32), (2.45, 0.25), (2.58, 0.29), (2.71, 0.21), (2.81, 0.29),
    (2.88, 0.18), (2.96, 0.14), (2.62, 0.14), (2.495, 0.105), (2.77, 0.09), (2.41, 0.14),
    (2.665, 0.32),
    (3.22, 0.32), (3.26, 0.25), (3.30, 0.40), (3.35, 0.29), (3.39, 0.21), (3.43, 0.32),
    (3.47, 0.40), (3.52, 0.29), (3.56, 0.21), (3.60, 0.32), (3.64, 0.43), (3.69, 0.32),
    (3.73, 0.21), (3.77, 0.29), (3.81, 0.40), (3.18, 0.14), (3.26, 0.105), (3.35, 0.12),
    (3.43, 0.07), (3.52, 0.09), (3.60, 0.105), (3.69, 0.05), (3.77, 0.12), (3.86, 0.09),
    (3.20, 0.65), (3.30, 0.58), (3.41, 0.50), (3.52, 0.50), (3.62, 0.58), (3.69, 0.50),
    (3.79, 0.58), (3.90, 0.61),
    (3.10, -0.02), (3.20, 0.02), (3.35, -0.03), (3.48, 0.01), (3.60, -0.04), (3.75, 0.00),
    (3.88, -0.05), (4.00, 0.02), (4.12, -0.03), (4.30, 0.03), (4.45, -0.02),
    # зона 3.0-4.5 около нуля
    (3.02, -0.55), (3.03, 0.12), (3.04, -0.40), (3.05, 0.30), (3.06, -0.20), (3.07, 0.05),
    (3.08, -0.62), (3.09, -0.08), (3.10, 0.45), (3.11, -0.33), (3.12, 0.18), (3.13, -0.70),
    (3.14, -0.15), (3.15, 0.08), (3.16, -0.45), (3.17, 0.36), (3.18, -0.28), (3.19, -0.02),
    (3.20, -0.60), (3.21, 0.22), (3.22, -0.10), (3.23, -0.38), (3.24, 0.52), (3.25, 0.02),
    (3.26, -0.52), (3.27, -0.18), (3.28, 0.15), (3.29, -0.32), (3.30, -0.75), (3.31, 0.06),
    (3.32, -0.42), (3.33, 0.34), (3.34, -0.22), (3.35, -0.58), (3.36, 0.10), (3.37, -0.08),
    (3.38, 0.46), (3.39, -0.30), (3.40, -0.66), (3.41, 0.20), (3.42, -0.14), (3.43, -0.48),
    (3.44, 0.04), (3.45, -0.26), (3.46, 0.28), (3.47, -0.55), (3.48, -0.05), (3.49, 0.14),
    (3.50, -0.38), (3.51, -0.78), (3.52, 0.40), (3.53, -0.20), (3.54, 0.06), (3.55, -0.46),
    (3.56, -0.11), (3.57, 0.25), (3.58, -0.62), (3.59, -0.30), (3.60, 0.12), (3.61, -0.02),
    (3.62, -0.52), (3.63, 0.34), (3.64, -0.24), (3.65, 0.05), (3.66, -0.70), (3.67, -0.36),
    (3.68, 0.18), (3.69, -0.12), (3.70, 0.44), (3.71, -0.46), (3.72, 0.02), (3.73, -0.28),
    (3.74, -0.60), (3.75, 0.26), (3.76, -0.08), (3.77, -0.40), (3.78, 0.10), (3.79, -0.66),
    (3.80, -0.18), (3.81, 0.36), (3.82, -0.02), (3.83, -0.50), (3.84, 0.16), (3.85, -0.32),
    (3.86, 0.04), (3.87, -0.72), (3.88, 0.28), (3.89, -0.14), (3.90, -0.56), (3.91, 0.12),
    (3.92, -0.26), (3.93, 0.46), (3.94, -0.44), (3.95, -0.04), (3.96, 0.20), (3.97, -0.36),
    (3.98, -0.80), (3.99, 0.06), (4.00, -0.20), (4.02, 0.32), (4.04, -0.12), (4.06, -0.66),
    (4.08, 0.14), (4.10, -0.42), (4.12, 0.24), (4.14, -0.06), (4.16, -0.28), (4.18, 0.08),
    (4.20, -0.52), (4.22, -0.14), (4.24, 0.18), (4.26, -0.40), (4.28, -0.02), (4.30, -0.62),
    (4.32, 0.12), (4.34, -0.26), (4.36, 0.30), (4.38, -0.46), (4.40, -0.08), (4.42, -0.34),
    (4.44, 0.10), (4.46, -0.56), (4.48, 0.02),
    (3.015, 0.22), (3.035, -0.30), (3.055, -0.72), (3.075, 0.38), (3.095, -0.48), (3.115, -0.06),
    (3.135, 0.26), (3.155, -0.58), (3.175, -0.12), (3.195, 0.42), (3.215, -0.36), (3.235, -0.04),
    (3.255, -0.68), (3.275, 0.30), (3.295, -0.14), (3.315, -0.50), (3.335, 0.16), (3.355, -0.34),
    (3.375, -0.02), (3.395, 0.24), (3.415, -0.40), (3.435, -0.72), (3.455, 0.10), (3.475, -0.16),
    (3.495, 0.32), (3.515, -0.60), (3.535, -0.28), (3.555, 0.18), (3.575, -0.04), (3.595, -0.44),
    # нижняя левая часть
    (0.60, -0.22), (0.66, -0.28), (0.72, -0.33), (0.80, -0.40), (0.88, -0.46), (0.95, -0.50),
    (1.02, -0.54), (1.10, -0.58), (1.18, -0.62), (1.25, -0.66), (1.33, -0.70), (1.40, -0.74),
    (1.48, -0.77), (1.55, -0.80), (1.62, -0.82), (1.70, -0.85), (1.78, -0.86), (1.86, -0.88),
    (1.95, -0.90), (2.05, -0.92), (2.12, -0.95), (1.30, -0.68), (1.37, -0.75), (1.46, -0.80),
    (1.52, -0.78), (1.62, -0.72), (1.70, -0.77), (1.77, -0.80), (1.83, -0.74), (1.90, -0.83),
    (2.00, -0.86), (2.08, -0.80), (2.16, -0.85), (2.22, -0.88), (2.27, -0.82),
    (0.758, -0.39), (0.815, -0.43), (0.842, -0.55), (0.957, -0.63), (1.117, -0.79), (1.283, -1.055),
    (1.304, -1.02), (1.442, -0.89), (1.544, -0.87), (1.59, -0.90), (1.66, -0.945), (1.787, -0.945),
    (1.842, -0.925), (1.893, -0.91), (1.868, -0.99), (1.92, -1.03), (1.82, -1.09), (1.81, -1.105),
    (2.01, -1.17), (2.01, -1.21), (2.063, -1.105), (2.20, -1.32), (2.25, -1.35), (2.27, -1.30),
    (2.26, -1.09), (2.276, -1.18), (2.335, -1.16), (2.36, -0.98), (2.378, -1.08), (2.516, -1.15),
    (2.537, -1.29), (2.57, -1.235), (2.676, -1.14), (2.69, -1.08), (2.718, -1.03), (2.627, -1.03),
    (2.59, -0.97), (2.552, -0.99), (2.463, -1.04), (2.485, -0.945), (2.50, -0.845),
    (2.05, -0.84), (2.06, -1.10), (2.11, -0.75), (2.18, -0.86), (2.25, -1.10), (2.26, -1.17),
    (2.28, -0.92), (2.34, -1.06), (2.35, -0.99), (2.37, -1.10), (2.39, -0.83), (2.44, -0.83),
    (2.45, -0.95), (2.47, -0.84), (2.48, -1.03), (2.53, -0.79), (2.55, -0.99), (2.59, -0.81),
    (2.59, -0.86), (2.62, -1.04), (2.665, -0.94), (2.69, -0.92), (2.70, -0.79), (2.71, -0.75),
    (2.74, -0.88), (2.80, -0.83), (2.86, -0.95), (2.92, -0.83), (2.92, -1.01), (2.97, -0.83),
    (3.00, -0.68), (3.10, -0.83), (3.11, -0.92),
    (2.56, -0.37), (2.62, -0.48), (2.665, -0.34), (2.73, -0.52), (2.77, -0.41), (2.835, -0.63),
    (2.88, -0.45), (2.92, -0.30), (2.94, -0.55), (2.97, -0.37), (3.01, -0.48), (3.03, -0.26),
    (2.665, -0.63), (2.58, -0.66), (2.52, -0.63), (2.43, -0.70), (2.78, -0.72), (2.90, -0.70),
    (2.96, -0.63),
    # нижняя правая часть
    (2.55, -2.40), (3.15, -2.98), (3.445, -2.79), (3.815, -2.51), (4.005, -2.775), (4.05, -2.35),
    (4.077, -2.405), (4.568, -2.45), (4.71, -2.31), (2.437, -1.85), (2.112, -1.57), (2.45, -1.61),
    (2.622, -1.57), (2.737, -1.62), (3.05, -1.60), (3.165, -1.56), (3.30, -1.56), (3.235, -1.87),
    (3.515, -1.81), (3.68, -1.82), (3.726, -1.79), (3.796, -1.93), (3.95, -1.74), (4.134, -1.73),
    (4.55, -1.62), (3.38, -1.49), (3.424, -1.395), (3.47, -1.44), (3.515, -1.47), (3.515, -1.38),
    (3.635, -1.366), (3.635, -1.39), (3.60, -1.25), (3.567, -1.326), (3.52, -1.21), (3.728, -1.27),
    (3.745, -1.26), (3.17, -1.27), (3.145, -1.38), (3.284, -1.10), (3.336, -1.12), (3.36, -1.11),
    (3.452, -1.10), (3.726, -1.09), (4.045, -1.315), (4.064, -1.00), (4.243, -1.17), (4.32, -1.10),
    (4.453, -1.134), (4.536, -1.10), (4.587, -1.055), (4.485, -1.00), (4.80, -1.05), (4.823, -1.145),
    (4.95, -0.99), (4.734, -0.88), (4.977, -0.82), (4.97, -0.66), (4.875, -0.62), (4.93, -0.52),
    (4.88, -0.43), (4.92, -0.25), (4.894, -0.145), (4.785, -0.33), (4.732, -0.50), (4.73, -0.41),
    (4.664, -0.565), (4.664, -0.48), (4.65, -0.70), (4.65, -0.286), (4.55, -0.81), (4.53, -0.67),
    (4.453, -0.61), (4.45, -0.67), (4.35, -0.695), (4.49, -0.19), (4.505, -0.08), (4.35, -0.155),
    (4.365, -0.09), (4.27, -0.166), (4.27, -0.35), (4.185, -0.88), (4.12, -0.765), (4.21, -0.645),
    (4.16, -0.60), (4.185, -0.68), (4.16, -0.64), (4.16, -0.56), (4.21, -0.35), (4.16, -0.35),
    (4.13, -0.36), (4.16, -0.15), (4.08, -0.10), (4.02, -0.83), (4.06, -0.59), (4.02, -0.59),
    (3.99, -0.655), (3.97, -0.66), (3.915, -0.62), (3.93, -0.73), (3.99, -0.56), (4.01, -0.50),
    (4.06, -0.50), (4.06, -0.40), (3.85, -0.75), (3.80, -0.75), (3.91, -0.45), (3.87, -0.52),
    (3.80, -0.43), (3.77, -0.94), (3.74, -0.96), (3.67, -0.94), (3.61, -1.00), (3.56, -0.97),
    (3.62, -0.92), (3.71, -0.86), (3.35, -0.95), (3.35, -0.87), (3.40, -0.88), (3.18, -0.905),
    (3.11, -0.92), (3.06, -0.91), (3.00, -1.055), (2.92, -1.02), (2.85, -0.96), (2.83, -1.32),
    (2.79, -1.29), (2.80, -1.18), (2.71, -1.16), (2.73, -1.13), (2.57, -1.24), (2.55, -1.29),
    (2.53, -1.17), (2.44, -1.33), (2.37, -1.29), (2.34, -1.18), (2.33, -1.30), (2.31, -1.35),
    (2.29, -1.33), (2.33, -1.09), (2.37, -1.15), (2.40, -1.09), (2.06, -1.11),
    (3.05, -0.12), (3.13, -0.05), (3.19, -0.17), (3.22, -0.27), (3.26, -0.23), (3.32, -0.16),
    (3.39, -0.10), (3.43, -0.19), (3.52, -0.12), (3.57, -0.16), (3.64, -0.10), (3.69, -0.23),
    (3.73, -0.14), (3.79, -0.19), (3.86, -0.12), (3.90, -0.23), (3.95, -0.12), (3.96, -0.27),
    (4.04, -0.30), (4.09, -0.08), (4.15, -0.17), (4.26, -0.16), (4.37, -0.07), (4.49, -0.17),
    (4.58, -0.05), (4.62, 0.03), (4.77, 0.03), (3.07, -0.34), (3.11, -0.45), (3.18, -0.55),
    (3.24, -0.41), (3.30, -0.45), (3.37, -0.48), (3.41, -0.36), (3.47, -0.37), (3.56, -0.30),
    (3.60, -0.41), (3.65, -0.45), (3.72, -0.39), (3.86, -0.43), (3.91, -0.41), (3.98, -0.48),
    (4.06, -0.34), (4.13, -0.37), (3.03, -0.68), (3.09, -0.74), (3.13, -0.81), (3.19, -0.90),
    (3.26, -0.70), (3.28, -0.57), (3.35, -0.81), (3.39, -0.88), (3.44, -0.72), (3.50, -0.66),
    (3.56, -0.68), (3.64, -0.66), (3.69, -0.83), (3.73, -0.95), (3.60, -1.01), (3.54, -0.97),
]

pred = list(cap_pred)
resid = list(cap_resid)
for xs, cols in ((core_pred, core_resid), (core2_pred, core2_resid)):
    for x, col in zip(xs, cols):
        for r in col:
            pred.append(x)
            resid.append(r)
for x, r in scatter_points:
    pred.append(x)
    resid.append(r)

fig, ax = plt.subplots(figsize=(10, 8))
ax.scatter(pred, resid, alpha=0.5, color='blue')
ax.axhline(y=0, color='orange', linestyle='--', linewidth=2)
ax.set_title('Остатки vs Предсказания (Random Forest)')
ax.set_xlabel('Предсказания')
ax.set_ylabel('Остатки')
ax.grid(True)

stats_text = (f'MSE остатков: {mse_resid:.4f}\n'
              f'MAE остатков: {mae_resid:.4f}\n'
              f'Асимметрия: {skew_resid:.4f}\n'
              f'Куртозис: {kurt_resid:.4f}')
ax.text(0.05, 0.95, stats_text, transform=ax.transAxes, fontsize=12,
        verticalalignment='top',
        bbox=dict(facecolor='white', edgecolor='gray', alpha=0.8))

fig.savefig('out.png', dpi=100)
